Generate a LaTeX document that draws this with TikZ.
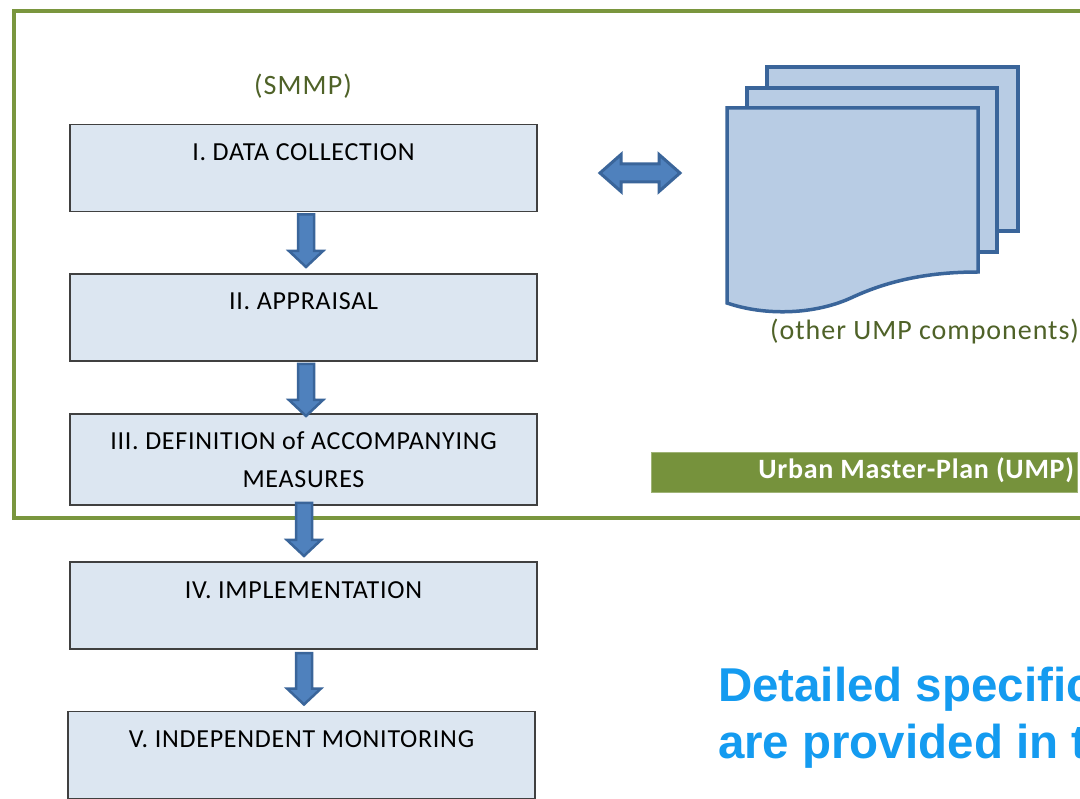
\documentclass[tikz,border=0pt]{standalone}
\usepackage{fontspec}
\setmainfont{Carlito}
\newfontfamily\notefont{Liberation Sans}
\newfontfamily\stepfont[LetterSpace=2.8]{Carlito}
\newfontfamily\smmpfont[LetterSpace=4]{Carlito}
\newfontfamily\greenfont[LetterSpace=3.5]{Carlito}
\newfontfamily\barfont[LetterSpace=2.6]{Carlito}
\usetikzlibrary{positioning}
\usetikzlibrary{calc}
\definecolor{framegreen}{HTML}{7A963E}
\definecolor{bargreen}{HTML}{76923C}
\definecolor{labelgreen}{HTML}{4F6228}
\definecolor{boxfill}{HTML}{DCE6F1}
\definecolor{boxline}{HTML}{404040}
\definecolor{arrowfill}{HTML}{4F81BD}
\definecolor{arrowline}{HTML}{3A659A}
\definecolor{sheetfill}{HTML}{B8CCE4}
\definecolor{noteblue}{HTML}{149BF0}

\begin{document}
\begin{tikzpicture}[x=1pt, y=-1pt,
                    every node/.append style={inner sep=0pt, outer sep=0pt},
                    stepbox/.style={rectangle, draw=boxline, line width=1.5pt, fill=boxfill, minimum width=467pt, align=center, font=\stepfont\fontsize{26}{38}\selectfont},
                    topbox/.style={stepbox, text height=36pt, text depth=51pt},
                    sheet/.style={draw=arrowline, line width=3.5pt, fill=sheetfill, line join=miter},
                    greenlabel/.style={text=labelgreen},
                    downarrow/.style={draw=arrowline, line width=2.5pt, fill=arrowfill, line join=miter,
                        to path={let \p1=(\tikztostart), \p2=(\tikztotarget) in
                            (\x1-8pt,\y1) -- (\x1+8pt,\y1) -- (\x1+8pt,\y2+16pt) -- (\x1+17pt,\y2+16pt) -- (\x1,\y2)
                            -- (\x1-17pt,\y2+16pt) -- (\x1-8pt,\y2+16pt) -- cycle}},
                    widearrow/.style={draw=arrowline, line width=3pt, fill=arrowfill, line join=miter,
                        to path={let \p1=(\tikztostart), \p2=(\tikztotarget) in
                            (\x1,\y1) -- (\x1+21pt,\y1+18.5pt) -- (\x1+21pt,\y1+9pt) -- (\x2-21pt,\y1+9pt) -- (\x2-21pt,\y1+18.5pt) -- (\x2,\y1)
                            -- (\x2-21pt,\y1-18.5pt) -- (\x2-21pt,\y1-9pt) -- (\x1+21pt,\y1-9pt) -- (\x1+21pt,\y1-18.5pt) -- cycle}}]
    \clip (0,0) rectangle (1080,799);
    \fill [white] (0,0) rectangle (1080,799);

    % Outer frame of the master plan
    \draw [framegreen, line width=4pt] (14,11) rectangle (1110,518);

    \node [greenlabel, font=\smmpfont\fontsize{28}{30}\selectfont] (smmp) at (303,86) {(SMMP)};

    % The five steps
    \node [topbox, minimum height=87pt] (data) at (303.5,168) {I. DATA COLLECTION};
    \node [topbox, minimum height=87pt, below=62.5pt of data] (appraisal) {II. APPRAISAL};
    \node [stepbox, minimum height=91pt, below=53pt of appraisal] (measures) {III. DEFINITION of ACCOMPANYING\\MEASURES};
    \node [topbox, minimum height=87pt, below=57pt of measures] (implementation) {IV. IMPLEMENTATION};
    \node [topbox, minimum height=86pt, below=62.5pt of implementation, xshift=-2pt] (monitoring) {V. INDEPENDENT MONITORING};

    % The stack of other components
    \draw [sheet] (767,67) rectangle (1018,231);
    \draw [sheet] (747,88) rectangle (997,252);
    \draw [sheet] (727,108) -- (978,108) -- (978,272) .. controls (930,272) and (890,280) .. (853,297)
        .. controls (815,315) and (765,316) .. (727,303) -- cycle;
    \coordinate (sheet_w) at (727,173);
    \node [greenlabel, anchor=east, font=\greenfont\fontsize{28}{30}\selectfont] (components) at (1079,332) {(other UMP components)};

    \node [fill=bargreen, draw=bargreen!70!white, minimum width=426pt, minimum height=40pt] (umpbar) at (864,472) {};
    \node [anchor=east, text=white, font=\barfont\bfseries\fontsize{28}{30}\selectfont] (umplabel) at (1074,470) {Urban Master-Plan (UMP)};

    \node [anchor=north west, align=left, text=noteblue, font=\notefont\bfseries\fontsize{47.5}{57}\selectfont] (note) at (718,667) {Detailed specific\\are provided in t};

    % Draw the arrows
    \draw [downarrow] ([shift={(2.5,3)}]data.south) to ([shift={(2.5,-7)}]appraisal.north);
    \draw [downarrow] ([shift={(2.5,3)}]appraisal.south) to ([shift={(2.5,2)}]measures.north);
    \draw [downarrow] ([shift={(0.5,-2)}]measures.south) to ([shift={(0.5,-6)}]implementation.north);
    \draw [downarrow] ([shift={(0.5,4)}]implementation.south) to ([shift={(2.5,-7)}]monitoring.north);
    \draw [widearrow] ([shift={(63,5)}]data.east) to ([xshift=-47pt]sheet_w);
\end{tikzpicture}
\end{document}
